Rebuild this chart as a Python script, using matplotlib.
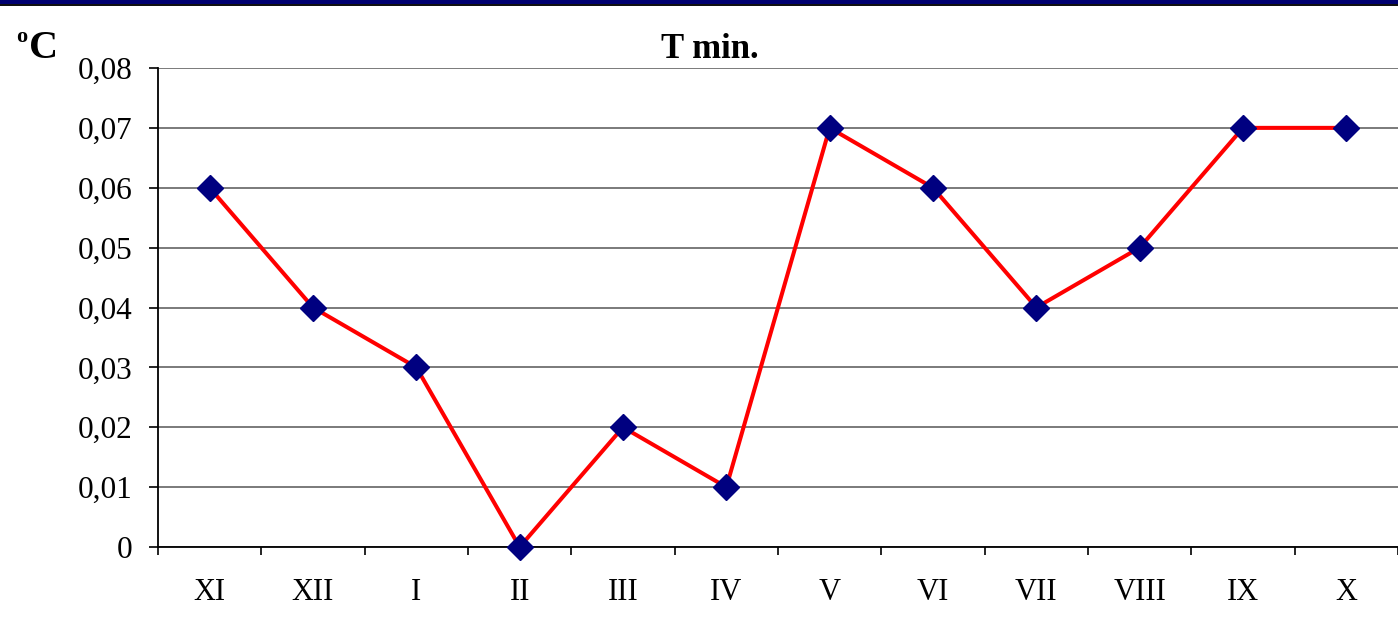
import matplotlib
matplotlib.use("Agg")
import matplotlib.pyplot as plt
from matplotlib.patches import Rectangle
import numpy as np

months = ["XI", "XII", "I", "II", "III", "IV", "V", "VI", "VII", "VIII", "IX", "X"]
t_min = [0.06, 0.04, 0.03, 0.00, 0.02, 0.01, 0.07, 0.06, 0.04, 0.05, 0.07, 0.07]
y_ticks = [0.00, 0.01, 0.02, 0.03, 0.04, 0.05, 0.06, 0.07, 0.08]

plt.rcParams["font.family"] = ["Liberation Serif", "DejaVu Serif"]

W, H = 1398, 638
fig = plt.figure(figsize=(W / 100, H / 100), dpi=100)
ax = fig.add_axes([158 / W, 1 - 547 / H, 1 - 158 / W, (547 - 68) / H])

x = np.arange(1, len(months) + 1)
ax.plot(x, t_min, color="#ff0000", lw=2.9, zorder=3, clip_on=False)
ax.plot(x, t_min, ls="none", marker="D", ms=13.5, color="#000080",
        markeredgecolor="#000080", zorder=4, clip_on=False)

ax.set_xlim(0.5, len(months) + 0.5)
ax.set_ylim(0, 0.08)

ax.set_yticks(y_ticks)
ax.set_yticklabels([("%.2f" % v).replace(".", ",") if v else "0" for v in y_ticks])
ax.yaxis.grid(True, color="#707070", lw=1.3)
ax.set_axisbelow(True)

# tick marks sit on the category boundaries, labels in the middle
ax.set_xticks(np.arange(0.5, len(months) + 1))
ax.set_xticklabels([])
ax.set_xticks(x, minor=True)
ax.set_xticklabels(months, minor=True)
ax.tick_params(axis="x", which="minor", length=0, pad=22, labelsize=22)
ax.tick_params(axis="x", which="major", length=6, width=1.2, direction="out")
ax.tick_params(axis="y", length=6.5, width=1.2, direction="out", pad=12, labelsize=22.5)

for side in ("top", "right"):
    ax.spines[side].set_visible(False)
for side in ("left", "bottom"):
    ax.spines[side].set_linewidth(1.3)
    ax.spines[side].set_color("black")

fig.text(710 / W, 1 - 49 / H, "T min.", ha="center", va="center",
         fontsize=25, fontweight="bold")
# degree mark drawn as a raised small "o" before the C
fig.text(16 / W, 1 - 37 / H, "o", ha="left", va="center",
         fontsize=16, fontweight="bold")
fig.text(29 / W, 1 - 48 / H, "C", ha="left", va="center",
         fontsize=29, fontweight="bold")

# dark band along the top edge
fig.patches.append(Rectangle((0, 1 - 5 / H), 1, 5 / H, transform=fig.transFigure,
                             facecolor="#000070", edgecolor="none"))
fig.patches.append(Rectangle((0, 1 - 6 / H), 1, 1.5 / H, transform=fig.transFigure,
                             facecolor="#111111", edgecolor="none"))

fig.savefig("out.png", dpi=100)
